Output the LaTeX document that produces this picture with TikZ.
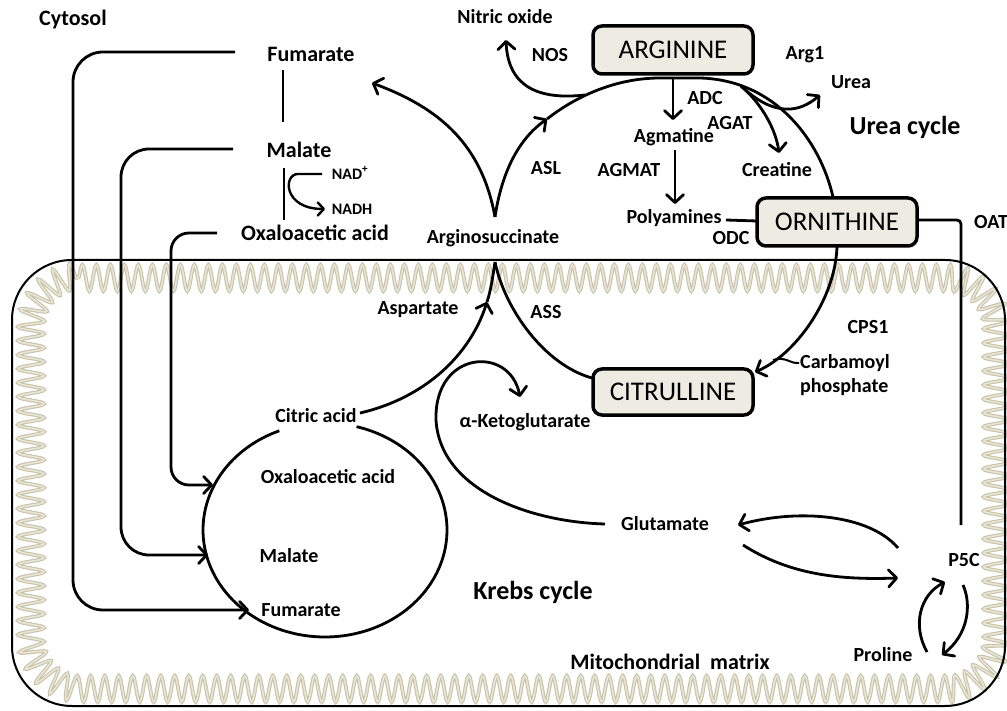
\documentclass[tikz,border=0pt]{standalone}
\usepackage{fontspec}
\setmainfont{Carlito}
\usetikzlibrary{calc,arrows.meta,decorations.pathmorphing,positioning}
\definecolor{boxfill}{RGB}{238,236,226}
\definecolor{memline}{RGB}{200,195,170}
\definecolor{memfill}{RGB}{232,229,212}

\tikzset{
  lbl/.style={inner sep=1pt, font=\bfseries\fontsize{20}{24}\selectfont},
  lblbig/.style={inner sep=1pt, font=\bfseries\fontsize{22}{26}\selectfont},
  lblsmall/.style={inner sep=1pt, font=\bfseries\fontsize{16}{19}\selectfont},
  title/.style={inner sep=1pt, font=\bfseries\fontsize{26}{30}\selectfont},
  aabox/.style={draw, line width=3.5pt, rounded corners=9pt, fill=boxfill, minimum width=160pt, minimum height=48pt, inner sep=2pt, font=\fontsize{27}{30}\selectfont},
  conn/.style={line width=2.8pt},
  tip/.style={conn, -{Straight Barb[length=8pt,width=17pt,round]}},
  tipsmall/.style={line width=2.4pt, -{Straight Barb[length=6pt,width=13pt,round]}},
  cristae/.style={decorate, decoration={snake, amplitude=13pt, segment length=14pt}}
}

\begin{document}
\begin{tikzpicture}[x=1pt,y=-1pt]
\useasboundingbox (0,0) rectangle (1007,711);

% mitochondrion
\foreach \w/\c in {3.8pt/memline, 1.6pt/memfill}
  \draw[cristae, \c, line width=\w] (78,278) -- (944,278)
    .. controls (971.6,278) and (994,300.4) .. (994,328) -- (994,640)
    .. controls (994,667.6) and (971.6,690) .. (944,690) -- (78,690)
    .. controls (50.4,690) and (28,667.6) .. (28,640) -- (28,328)
    .. controls (28,300.4) and (50.4,278) .. (78,278);
\draw[line width=2pt, rounded corners=60pt] (12,260) rectangle (1005,706);

% cytosol side
\node[lblbig, anchor=west] (cyto) at (38,20) {Cytosol};
\node[lblbig] (fum) at (311,54) {Fumarate};
\node[lblbig] (mal) at (299,150) {Malate};
\node[lblsmall] (nadp) at (350,173) {NAD\textsuperscript{+}};
\node[lblsmall] (nadh) at (352,209) {NADH};
\node[lblbig] (oaa) at (315,233) {Oxaloacetic acid};

% Krebs cycle
\node[lbl] (kcit) at (316,416) {Citric acid};
\node[lbl] (koaa) at (328,477) {Oxaloacetic acid};
\node[lbl] (kmal) at (289,556) {Malate};
\node[lbl] (kfum) at (301,610) {Fumarate};
\node[title] (krebs) at (533,592) {Krebs cycle};
\node[lblbig] (matrix) at (670,662) {Mitochondrial\ \ matrix};

% urea cycle
\node[aabox] (arg) at (673,50) {ARGININE};
\node[aabox] (orn) at (837,222) {ORNITHINE};
\node[aabox, minimum height=46pt] (cit) at (673,392) {CITRULLINE};
\node[lbl] (argsuc) at (493,238) {Arginosuccinate};
\node[lbl] (asp) at (418,310) {Aspartate};
\node[lbl] (ass) at (546,312) {ASS};
\node[lbl] (asl) at (546,168) {ASL};
\node[lbl] (nos) at (550,55) {NOS};
\node[lbl] (no) at (505,17) {Nitric oxide};
\node[lbl] (adc) at (705,98) {ADC};
\node[lbl] (agm) at (674,137) {Agmatine};
\node[lbl] (agat) at (730,123) {AGAT};
\node[lbl] (agmat) at (629,170) {AGMAT};
\node[lbl] (poly) at (674,218) {Polyamines};
\node[lbl] (odc) at (731,238) {ODC};
\node[lbl] (crea) at (777,170) {Creatine};
\node[lbl] (arg1) at (805,55) {Arg1};
\node[lbl] (urea) at (851,82) {Urea};
\node[title] (ucyc) at (905,127) {Urea cycle};
\node[lbl, anchor=west] (oat) at (973,222) {OAT};
\node[lbl] (cps) at (868,327) {CPS1};
\node[lbl, anchor=west] (carb) at (799,363) {Carbamoyl};
\node[lbl, anchor=west] (phos) at (799,387) {phosphate};
\node[lbl] (ake) at (525,422) {α-Ketoglutarate};
\node[lbl] (glu) at (665,524) {Glutamate};
\node[lbl] (p5c) at (964,560) {P5C};
\node[lbl] (pro) at (883,655) {Proline};

\coordinate (vTop) at ($(argsuc)+(2,-21)$);
\coordinate (vBot) at ($(argsuc)+(2,24)$);
\coordinate (aslTip) at (547,119);
\coordinate (aspTip) at (487,302);
\coordinate (nosFork) at (585,95);
\coordinate (ureaFork) at (741,86);
\coordinate (cpJoin) at (773,360);

% malate shuttle
\draw[conn] ($(fum)+(-28,16)$) -- ($(mal)+(-16,-28)$);
\draw[conn] ($(mal)+(-15,18)$) -- ($(oaa)+(-31,-13)$);
\draw[tipsmall] ($(nadp)+(-28,1)$) -- ($(nadp)+(-52,1)$) .. controls (283,174) and (283,209) .. ($(nadh)+(-27,0)$);
\draw[tip, rounded corners=30pt] ($(fum)+(-76,-2)$) -| (73,610) -- ($(kfum)+(-52,0)$);
\draw[tip, rounded corners=28pt] ($(mal)+(-66,-1)$) -| (121,555) -- ($(kmal)+(-81,-1)$);
\draw[tip, rounded corners=18pt] ($(oaa)+(-98,0)$) -| (171,485) -- ($(koaa)+(-115,8)$);

% Krebs ring
\draw[conn] plot[domain=-75:248, samples=90, smooth] ({325+122*cos(\x)},{530+107*sin(\x)});
\draw[tip] ($(kcit)+(44,-3)$) .. controls (425,398) and (470,355) .. (aspTip);
\draw[conn] (aspTip) .. controls (491,290) and (493,275) .. (vBot);
\draw[tip] ($(glu)+(-60,0)$) .. controls (530,522) and (440,490) .. (436,420)
  .. controls (434,350) and (510,345) .. ($(ake)+(-5,-25)$);

% urea ring
\draw[conn] (vBot) .. controls (505,310) and (545,365) .. ($(cit)+(-81,-14)$);
\draw[tip] (vTop) .. controls (482,145) and (440,108) .. ($(fum)+(61,29)$);
\draw[tip] (vTop) .. controls (502,170) and (520,138) .. (aslTip);
\draw[conn] (aslTip) .. controls (575,97) and (615,78) .. (660,78) -- (700,78)
  .. controls (775,80) and (820,140) .. ($(orn)+(-4,-25)$);
\draw[tip] (nosFork) .. controls (540,100) and (508,88) .. ($(no)+(1,23)$);
\draw[tip] (ureaFork) .. controls (775,118) and (800,112) .. ($(urea)+(-31,13)$);
\draw[tip] (ureaFork) .. controls (762,104) and (776,130) .. ($(crea)+(2,-17)$);
\draw[tip] ($(arg)+(0,27)$) -- ($(agm)+(-1,-17)$);
\draw[tip] ($(agm)+(1,13)$) -- ($(poly)+(1,-14)$);
\draw[conn] ($(poly)+(52,2)$) -- ($(orn)+(-80,-1)$);
\draw[tip] ($(orn)+(0,25)$) .. controls (835,300) and (795,355) .. ($(cit)+(82,-20)$);
\draw[line width=2pt] (carb.west) .. controls (790,364) and (786,356) .. (cpJoin);
\draw[conn, rounded corners=4pt] ($(orn)+(80,-2)$) -| ($(p5c)+(-3,-35)$);

% proline / glutamate
\draw[tip] ($(p5c)+(-66,-12)$) .. controls (870,515) and (800,508) .. ($(glu)+(73,1)$);
\draw[tip] ($(glu)+(78,21)$) .. controls (790,575) and (840,580) .. ($(p5c)+(-66,18)$);
\draw[tip] ($(pro)+(44,-3)$) .. controls (912,625) and (920,595) .. ($(p5c)+(-19,22)$);
\draw[tip] ($(p5c)+(-1,25)$) .. controls (972,605) and (968,635) .. ($(pro)+(59,0)$);
\end{tikzpicture}
\end{document}
